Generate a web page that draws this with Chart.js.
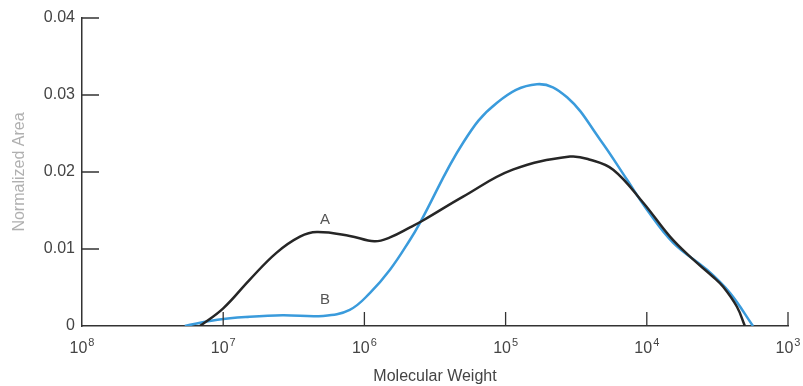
<!DOCTYPE html>
<html>
<head>
<meta charset="utf-8">
<script src="https://cdn.jsdelivr.net/npm/chart.js@4.4.0/dist/chart.umd.min.js"></script>
<style>
html, body { margin: 0; padding: 0; background: #fff; }
</style>
</head>
<body>
<canvas id="chartMw" width="803" height="386"></canvas>
<script>
'use strict'

// curve A (black)
const mwA = [1.46e7, 1.0e7, 6.5e6, 4.2e6, 2.86e6, 2.17e6, 1.27e6, 8.5e5, 6.59e5, 4.75e5, 3.85e5, 2.0e5, 8.9e4, 3.5e4, 2.52e4, 1.73e4, 1.06e4, 6.85e3, 4.94e3, 3.4e3, 2.88e3, 2.3e3, 2.02e3];
const areaA = [0, 0.0023, 0.0060, 0.0095, 0.0116, 0.0122, 0.0117, 0.0110, 0.0115, 0.0128, 0.0137, 0.0168, 0.0203, 0.0220, 0.0216, 0.0203, 0.0160, 0.0116, 0.0090, 0.0064, 0.0051, 0.0025, 0];

// curve B (blue)
const mwB = [1.87e7, 1.1e7, 6.5e6, 3.8e6, 1.96e6, 1.27e6, 9.12e5, 6.59e5, 4.75e5, 4.04e5, 2.0e5, 1.15e5, 6.0e4, 3.67e4, 2.14e4, 1.38e4, 9.97e3, 6.5e3, 3.75e3, 2.58e3, 1.77e3];
const areaB = [0, 0.0008, 0.0012, 0.0014, 0.0013, 0.0021, 0.0043, 0.0073, 0.0112, 0.0134, 0.0238, 0.0290, 0.0314, 0.0297, 0.0242, 0.0190, 0.0151, 0.0108, 0.0073, 0.0043, 0];

const xTicks = [1e8, 1e7, 1e6, 1e5, 1e4, 1e3];
const yTicks = [0, 0.01, 0.02, 0.03, 0.04];

const curveLabels = ['A', 'B'];
const curveLabelMw = [1.9e6, 1.9e6];
const curveLabelArea = [0.0138, 0.0034];

const font = 'Liberation Sans';

const toPoints = (xs, ys) => xs.map((v, i) => ({ x: v, y: ys[i] }));

// inward tick marks, power-of-ten labels and the A / B captions
const axisExtras = {
	id: 'axisExtras',
	afterDraw(chart) {
		const { ctx, scales: { x, y } } = chart;
		ctx.save();
		ctx.strokeStyle = '#333';
		ctx.lineWidth = 1.3;
		ctx.beginPath();
		xTicks.forEach(v => {
			const px = x.getPixelForValue(v);
			if (px > x.left + 2) {
				ctx.moveTo(px, y.bottom);
				ctx.lineTo(px, y.bottom - 14);
			}
		});
		yTicks.forEach(v => {
			if (v === 0) return;
			const py = y.getPixelForValue(v);
			ctx.moveTo(x.left, py);
			ctx.lineTo(x.left + 17, py);
		});
		ctx.stroke();

		ctx.fillStyle = '#444';
		ctx.textAlign = 'left';
		ctx.textBaseline = 'alphabetic';
		xTicks.forEach(v => {
			const base = '10';
			const exp = String(Math.round(Math.log10(v)));
			ctx.font = '16px "' + font + '"';
			const wb = ctx.measureText(base).width;
			ctx.font = '11px "' + font + '"';
			const we = ctx.measureText(exp).width;
			const left = x.getPixelForValue(v) - (wb + we + 1) / 2;
			ctx.font = '16px "' + font + '"';
			ctx.fillText(base, left, y.bottom + 27);
			ctx.font = '11px "' + font + '"';
			ctx.fillText(exp, left + wb + 1, y.bottom + 20);
		});

		ctx.fillStyle = '#555';
		ctx.font = '15px "' + font + '"';
		ctx.textAlign = 'center';
		ctx.textBaseline = 'middle';
		curveLabels.forEach((t, i) => {
			ctx.fillText(t, x.getPixelForValue(curveLabelMw[i]), y.getPixelForValue(curveLabelArea[i]));
		});
		ctx.restore();
	},
};

new Chart(document.getElementById('chartMw'), {
	type: 'line',
	data: {
		datasets: [
			{
				label: 'A',
				data: toPoints(mwA, areaA),
				borderColor: '#262626',
				borderWidth: 2.5,
				pointRadius: 0,
				tension: 0.4,
				fill: false,
			},
			{
				label: 'B',
				data: toPoints(mwB, areaB),
				borderColor: '#3a9bdc',
				borderWidth: 2.5,
				pointRadius: 0,
				tension: 0.4,
				fill: false,
			},
		],
	},
	options: {
		responsive: false,
		animation: false,
		layout: { padding: { top: 18, right: 15, left: 0, bottom: 0 } },
		plugins: {
			legend: { display: false },
			tooltip: { enabled: false },
		},
		scales: {
			x: {
				type: 'logarithmic',
				reverse: true,
				min: 1e3,
				max: 1e8,
				afterBuildTicks: scale => { scale.ticks = xTicks.map(v => ({ value: v })); },
				afterFit: scale => { scale.height = 60; },
				grid: { display: false, drawTicks: false },
				border: { display: true, color: '#333', width: 1.5 },
				ticks: { display: false },
				title: {
					display: true,
					text: 'Molecular Weight',
					color: '#444',
					font: { family: font, size: 16 },
					padding: { top: 0, bottom: 0 },
				},
			},
			y: {
				min: 0,
				max: 0.04,
				afterBuildTicks: scale => { scale.ticks = yTicks.map(v => ({ value: v })); },
				afterFit: scale => { scale.width = 82; },
				grid: { display: false, drawTicks: false },
				border: { display: true, color: '#333', width: 1.5 },
				ticks: {
					padding: 7,
					color: '#444',
					font: { family: font, size: 16 },
					callback: v => v === 0 ? '0' : v.toFixed(2),
				},
				title: {
					display: true,
					text: 'Normalized Area',
					color: '#b0b0b0',
					font: { family: font, size: 16 },
					padding: { top: 10, bottom: 0 },
				},
			},
		},
	},
	plugins: [axisExtras],
});
</script>
</body>
</html>
